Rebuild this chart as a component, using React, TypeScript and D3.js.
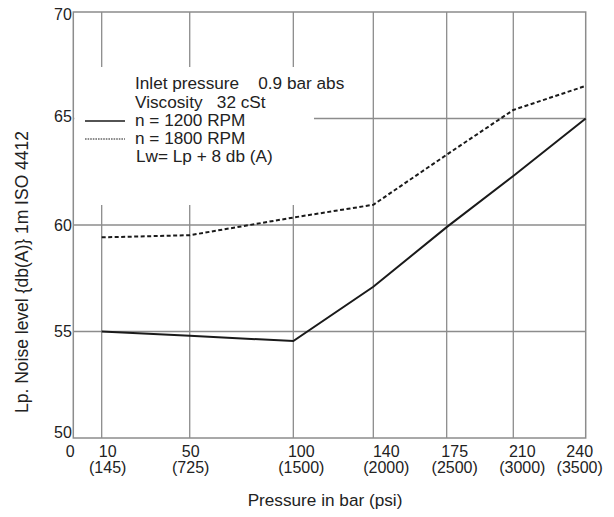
import React from "react";
import * as d3 from "d3";

// ---- data ----
const pressureBar = [10, 50, 100, 140, 175, 210, 240];
const rpm1200 = [55.0, 54.8, 54.55, 57.1, 59.9, 62.3, 65.0];
const rpm1800 = [59.42, 59.52, 60.35, 60.95, 63.3, 65.4, 66.53];
const xTickBar = ["0", "10", "50", "100", "140", "175", "210", "240"];
const xTickPsi = ["", "(145)", "(725)", "(1500)", "(2000)", "(2500)", "(3000)", "(3500)"];
const xTickValues = [0, 10, 50, 100, 140, 175, 210, 240];
const yTicks = [50, 55, 60, 65, 70];
const legendNotes = ["Inlet pressure    0.9 bar abs", "Viscosity   32 cSt"];
const seriesNames = ["n = 1200 RPM", "n = 1800 RPM"];
const footNote = "Lw= Lp + 8 db (A)";
const xTitle = "Pressure in bar (psi)";
const yTitle = "Lp. Noise level {db(A)} 1m ISO 4412";

// ---- layout ----
const W = 614, H = 517;
const M = { left: 73.3, top: 12, right: 28.3, bottom: 79 };
const PW = W - M.left - M.right;
const PH = H - M.top - M.bottom;
// hand-drawn, non-uniform pressure axis: relative tick placement
const tickFrac = [0, 0.0554, 0.2272, 0.4294, 0.5855, 0.7287, 0.8587, 1];
const labelDx = [-3, 6, 1, 8, 13, 8, 9, -6];
const yLabelDy = [-5.5, 0, 0.5, -2, 2];
const FONT = "'Liberation Sans', Arial, Helvetica, sans-serif";
const GRID = "#8c8c8c";
const INK = "#1a1a1a";
const TXT = "#222";
const LEG_FS = 17.2;
const LEG_Y0 = 89.3;
const LEG_STEP = 18.2;

export default function App() {
  const x = d3.scaleLinear().domain(xTickValues).range(tickFrac.map((f) => M.left + f * PW));
  const y = d3.scaleLinear().domain([50, 70]).range([M.top + PH, M.top]);
  const line = d3
    .line<number>()
    .x((_, i) => x(pressureBar[i]))
    .y((d) => y(d));

  const legendBox = { x0: M.left + 1, x1: 314, y0: 67, y1: 205 };

  return (
    <svg
      width={W}
      height={H}
      style={{ position: "absolute", left: 0, top: 0, background: "#fff" }}
      fontFamily={FONT}
    >
      {/* vertical grid */}
      {xTickValues.slice(1, -1).map((v) => (
        <line key={"vg" + v} x1={x(v)} x2={x(v)} y1={M.top} y2={M.top + PH} stroke={GRID} strokeWidth={1.3} />
      ))}
      {/* horizontal grid */}
      {yTicks.slice(1, -1).map((v) => (
        <line key={"hg" + v} x1={M.left} x2={M.left + PW} y1={y(v)} y2={y(v)} stroke={GRID} strokeWidth={1.3} />
      ))}
      {/* legend mask */}
      <rect
        x={legendBox.x0}
        y={legendBox.y0}
        width={legendBox.x1 - legendBox.x0}
        height={legendBox.y1 - legendBox.y0}
        fill="#fff"
      />
      {/* frame */}
      <rect x={M.left} y={M.top} width={PW} height={PH} fill="none" stroke={GRID} strokeWidth={1.5} />

      {/* series */}
      <path d={line(rpm1200) || ""} fill="none" stroke={INK} strokeWidth={2} />
      <path d={line(rpm1800) || ""} fill="none" stroke={INK} strokeWidth={2} strokeDasharray="4,2.5" />

      {/* y tick labels */}
      {yTicks.map((v, i) => (
        <text
          key={"yt" + v}
          x={M.left - 1.5}
          y={y(v) + yLabelDy[i]}
          dy="0.35em"
          textAnchor="end"
          fontSize={16}
          fill={TXT}
        >
          {v}
        </text>
      ))}

      {/* x tick labels */}
      {xTickValues.map((v, i) => (
        <g key={"xt" + v}>
          <text x={x(v) + labelDx[i]} y={456.5} textAnchor="middle" fontSize={16} fill={TXT}>
            {xTickBar[i]}
          </text>
          {xTickPsi[i] && (
            <text x={x(v) + labelDx[i]} y={472.5} textAnchor="middle" fontSize={16} fill={TXT}>
              {xTickPsi[i]}
            </text>
          )}
        </g>
      ))}

      {/* axis titles */}
      <text x={325} y={505.5} textAnchor="middle" fontSize={17.2} fill={TXT}>
        {xTitle}
      </text>
      <text
        transform={`translate(28.2, ${272}) rotate(-90)`}
        textAnchor="middle"
        fontSize={17.5}
        fill={TXT}
      >
        {yTitle}
      </text>

      {/* legend */}
      {legendNotes.map((t, i) => (
        <text key={"ln" + i} x={135} y={LEG_Y0 + i * LEG_STEP} fontSize={LEG_FS} fill={TXT} style={{ whiteSpace: "pre" }}>
          {t}
        </text>
      ))}
      {seriesNames.map((t, i) => (
        <g key={"sn" + i}>
          <line
            x1={85}
            x2={125}
            y1={121 + i * 18}
            y2={121 + i * 18}
            stroke={INK}
            strokeWidth={i === 0 ? 1.3 : 1}
            strokeDasharray={i === 0 ? undefined : "1.6,1"}
          />
          <text x={135} y={LEG_Y0 + (i + 2) * LEG_STEP} fontSize={LEG_FS} fill={TXT}>
            {t}
          </text>
        </g>
      ))}
      <text x={136} y={LEG_Y0 + 4 * LEG_STEP} fontSize={LEG_FS} fill={TXT}>
        {footNote}
      </text>
    </svg>
  );
}
